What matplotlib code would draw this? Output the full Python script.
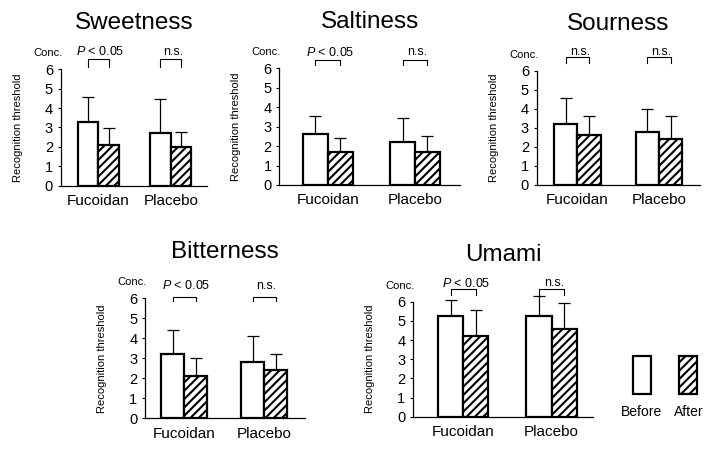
import numpy as np
import matplotlib
matplotlib.use('Agg')
import matplotlib.pyplot as plt

plt.rcParams['font.family'] = ['Liberation Sans', 'DejaVu Sans']
plt.rcParams['mathtext.fontset'] = 'custom'
plt.rcParams['mathtext.rm'] = 'Liberation Sans'
plt.rcParams['mathtext.it'] = 'Liberation Sans:italic'
plt.rcParams['hatch.linewidth'] = 1.5

# Data (recognition threshold, mean and upper SD)
tastes = ['Sweetness', 'Saltiness', 'Sourness', 'Bitterness', 'Umami']
groups = ['Fucoidan', 'Placebo']

before_mean = [[3.28, 2.71], [2.61, 2.23], [3.22, 2.80], [3.20, 2.83], [5.25, 5.25]]
before_sd = [[1.31, 1.77], [0.96, 1.20], [1.36, 1.20], [1.22, 1.27], [0.85, 1.05]]
after_mean = [[2.11, 2.01], [1.70, 1.70], [2.62, 2.41], [2.12, 2.43], [4.22, 4.56]]
after_sd = [[0.88, 0.76], [0.72, 0.82], [1.00, 1.21], [0.88, 0.79], [1.36, 1.35]]

significance = [['P', 'n.s.'], ['P', 'n.s.'], ['n.s.', 'n.s.'], ['P', 'n.s.'], ['P', 'n.s.']]

# Layout per panel: axes rect in pixels (left, right, top, bottom), xlim, bracket/text heights
W, H = 725, 450
panels = [
    dict(px=(60.7, 207, 69.3, 185.7), xlim=(-0.52, 1.50), br=(6.52, 6.14), ty=6.90),
    dict(px=(279.3, 460, 68.3, 185.0), xlim=(-0.554, 1.515), br=(6.43, 6.17), ty=6.83),
    dict(px=(536.7, 700, 70.7, 185.0), xlim=(-0.497, 1.50), br=(6.70, 6.42), ty=6.98),
    dict(px=(145.0, 305, 298.3, 418.3), xlim=(-0.49, 1.51), br=(6.08, 5.88), ty=6.62),
    dict(px=(413.0, 593, 301.7, 416.7), xlim=(-0.57, 1.47), br=(6.66, 6.36), ty=6.95),
]

bar_w = 0.285
fig = plt.figure(figsize=(7.25, 4.5), dpi=100)

for i, taste in enumerate(tastes):
    p = panels[i]
    l, r, t, b = p['px']
    ax = fig.add_axes([l / W, 1 - b / H, (r - l) / W, (b - t) / H])
    x = np.arange(len(groups))

    ax.bar(x - bar_w / 2, before_mean[i], bar_w, color='white', edgecolor='black',
           linewidth=1.6, zorder=3)
    ax.bar(x + bar_w / 2, after_mean[i], bar_w, color='white', edgecolor='black',
           hatch='////', linewidth=1.6, zorder=3)
    for xs, m, sd in [(x - bar_w / 2, before_mean[i], before_sd[i]),
                      (x + bar_w / 2, after_mean[i], after_sd[i])]:
        eb = ax.errorbar(xs, m, yerr=[np.zeros(2), sd], fmt='none', ecolor='black',
                         elinewidth=0.9, capsize=4, capthick=0.9, zorder=2)
        for art in eb.get_children():
            art.set_clip_on(False)

    # significance brackets
    top, bot = p['br']
    for j, sig in enumerate(significance[i]):
        x0, x1 = x[j] - bar_w / 2, x[j] + bar_w / 2
        ax.plot([x0, x0, x1, x1], [bot, top, top, bot], color='black', lw=0.8,
                clip_on=False)
        label = r'$\mathit{P}$ < 0.05' if sig == 'P' else 'n.s.'
        ax.text(x[j] + 0.03, p['ty'], label, ha='center', va='center', fontsize=9,
                clip_on=False)

    ax.set_xlim(*p['xlim'])
    ax.set_ylim(0, 6)
    ax.set_yticks(range(0, 7))
    ax.set_xticks(x)
    ax.set_xticklabels(groups)
    ax.tick_params(axis='x', length=0, pad=6, labelsize=11)
    ax.tick_params(axis='y', direction='out', length=2.5, width=0.8, pad=3, labelsize=10.5)
    for s in ['top', 'right']:
        ax.spines[s].set_visible(False)
    ax.spines['left'].set_linewidth(0.9)
    ax.spines['bottom'].set_linewidth(0.9)

    ax.set_ylabel('Recognition threshold', fontsize=8)
    ax.yaxis.set_label_coords(-38 / (r - l), 0.5)
    ax.annotate('Conc.', xy=(0, 1), xycoords='axes fraction', xytext=(-9.5, 11.5),
                textcoords='offset points', ha='center', va='center', fontsize=8)
    ax.set_title(taste, fontsize=17.5, pad=29)

# legend panel
lax = fig.add_axes([620 / W, 1 - 394.3 / H, 90 / W, 38.6 / H])
lx = np.arange(2)
lax.bar(lx[0], 1, 0.39, color='white', edgecolor='black', linewidth=1.6, clip_on=False)
lax.bar(lx[1], 1, 0.39, color='white', edgecolor='black', hatch='////', linewidth=1.6,
        clip_on=False)
lax.set_xlim(-0.469, 1.467)
lax.set_ylim(0, 1)
lax.set_xticks(lx)
lax.set_xticklabels(['Before', 'After'])
lax.tick_params(axis='x', length=0, pad=8, labelsize=10)
lax.set_yticks([])
for s in lax.spines.values():
    s.set_visible(False)

fig.savefig('out.png', dpi=100)
